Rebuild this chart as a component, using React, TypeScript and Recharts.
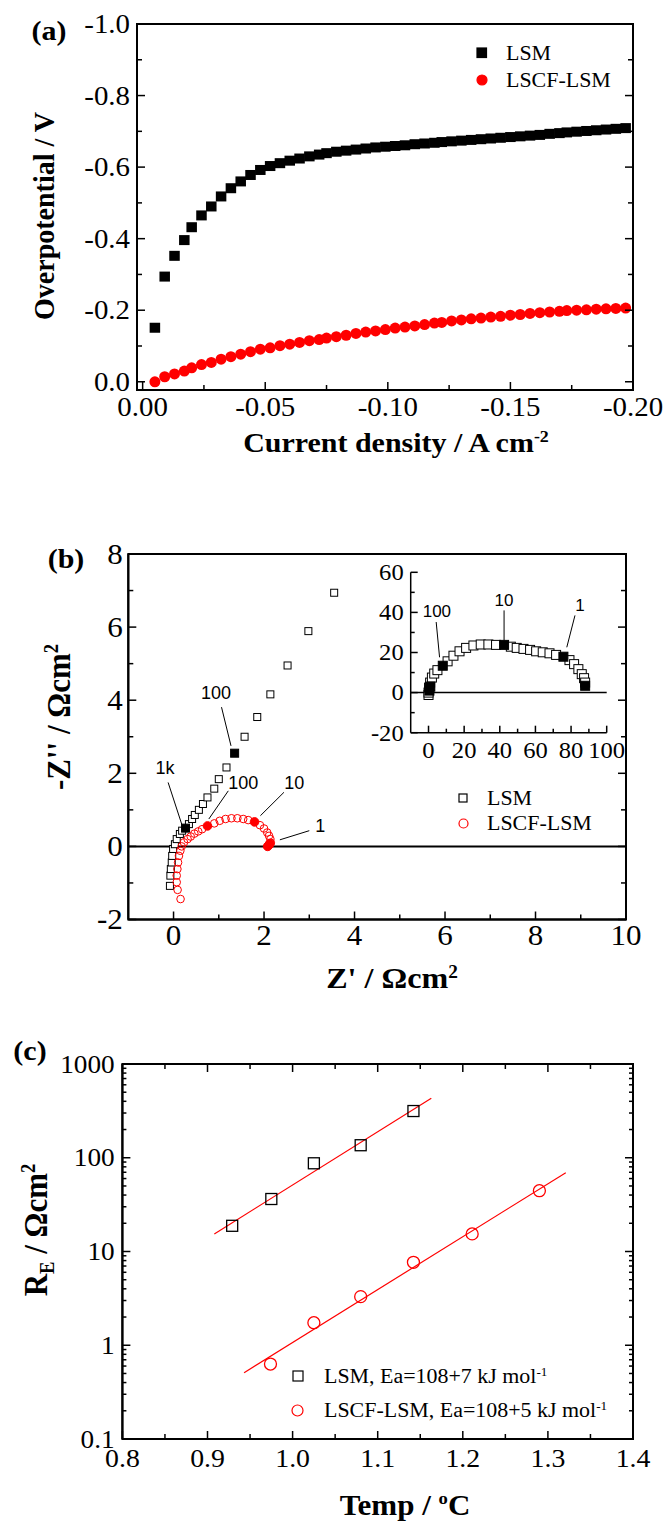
import React from 'react'
import { ScatterChart, Scatter, XAxis, YAxis, ReferenceArea, ReferenceLine } from 'recharts'

const SERIF = '"Liberation Serif", "Times New Roman", Times, serif'
const SANS = '"Liberation Sans", Arial, sans-serif'
const RED = '#ff0000'
const SX = 1.07 // the original figure's lettering is slightly wide

// ---- (a) overpotential vs current density ----
const currentA = [
  -0.005, -0.009, -0.013, -0.017, -0.020, -0.024, -0.028, -0.032, -0.036, -0.040,
  -0.044, -0.048, -0.052, -0.056, -0.060, -0.064, -0.068, -0.072, -0.075, -0.079,
  -0.083, -0.087, -0.091, -0.095, -0.099, -0.103, -0.107, -0.111, -0.115, -0.119,
  -0.122, -0.126, -0.130, -0.134, -0.138, -0.142, -0.146, -0.150, -0.154, -0.158,
  -0.162, -0.166, -0.170, -0.173, -0.177, -0.181, -0.185, -0.189, -0.193, -0.197,
]
const overLSM = [
  -0.151, -0.294, -0.352, -0.396, -0.432, -0.465, -0.490, -0.518, -0.541, -0.560,
  -0.578, -0.592, -0.603, -0.611, -0.618, -0.624, -0.630, -0.635, -0.639, -0.643,
  -0.646, -0.649, -0.652, -0.655, -0.657, -0.659, -0.661, -0.664, -0.666, -0.668,
  -0.670, -0.672, -0.674, -0.676, -0.678, -0.680, -0.682, -0.684, -0.686, -0.688,
  -0.690, -0.693, -0.695, -0.697, -0.699, -0.701, -0.703, -0.705, -0.707, -0.709,
]
const overLSCF = [
  0.000, -0.014, -0.022, -0.030, -0.039, -0.048, -0.054, -0.063, -0.070, -0.077,
  -0.084, -0.091, -0.095, -0.101, -0.105, -0.110, -0.115, -0.118, -0.122, -0.126,
  -0.130, -0.135, -0.139, -0.142, -0.146, -0.150, -0.153, -0.156, -0.160, -0.164,
  -0.166, -0.170, -0.173, -0.176, -0.178, -0.181, -0.183, -0.186, -0.188, -0.191,
  -0.193, -0.195, -0.197, -0.199, -0.200, -0.201, -0.203, -0.204, -0.205, -0.206,
]

// ---- (b) impedance, main plot ----
const zReLSM = [-0.08, -0.07, -0.06, -0.04, -0.03, -0.01, 0.03, 0.07, 0.14, 0.19, 0.34, 0.41, 0.47, 0.56, 0.65, 0.75, 0.90, 1.00, 1.17, 1.57, 1.85, 2.14, 2.52, 2.98, 3.55]
const zImLSM = [-1.08, -0.80, -0.62, -0.44, -0.26, -0.07, 0.06, 0.20, 0.34, 0.43, 0.61, 0.75, 0.86, 1.00, 1.16, 1.34, 1.58, 1.84, 2.16, 3.00, 3.54, 4.16, 4.95, 5.89, 6.94]
const zReLSMdec = [0.265, 1.35]
const zImLSMdec = [0.50, 2.55]
const zReLSCF = [0.155, 0.09, 0.07, 0.07, 0.085, 0.10, 0.12, 0.15, 0.18, 0.23, 0.31, 0.38, 0.46, 0.545, 0.63, 0.90, 1.02, 1.15, 1.28, 1.41, 1.54, 1.65, 1.91, 2.00, 2.07, 2.11, 2.14, 2.15]
const zImLSCF = [-1.44, -1.19, -0.98, -0.80, -0.62, -0.44, -0.26, -0.12, 0.00, 0.11, 0.20, 0.27, 0.35, 0.41, 0.47, 0.63, 0.70, 0.75, 0.77, 0.77, 0.75, 0.72, 0.58, 0.49, 0.38, 0.29, 0.20, 0.10]
const zReLSCFdec = [0.75, 1.79, 2.08, 2.11, 2.13]
const zImLSCFdec = [0.56, 0.67, 0.00, 0.04, 0.08]

// ---- (b) inset, LSM ----
const insRe = [0, 0, 0.3, 0.9, 1.9, 3.2, 5, 10.7, 14, 17.4, 21.1, 25.2, 29.3, 33.6, 37.9, 46.2, 49.5, 53.3, 57, 60.4, 64.1, 67.9, 71.6, 79.1, 81.7, 84.1, 86, 87.3, 87.9]
const insIm = [-1.2, 0, 2.5, 5, 7.5, 9.5, 11.2, 15.6, 18.4, 20.6, 22.3, 23.5, 24, 24, 23.8, 22.9, 22.3, 21.8, 21.3, 20.6, 20.1, 19.6, 18.8, 16.2, 14.2, 11.7, 9.2, 7.2, 5]
const insReDec = [0.5, 1, 8, 42.4, 75.7, 87.9]
const insImDec = [1, 3, 13.4, 23.8, 17.9, 3.4]

// ---- (c) Arrhenius ----
const tLSM = [0.929, 0.975, 1.025, 1.080, 1.142]
const rLSM = [18.8, 36.3, 87.3, 136, 315]
const tLSCF = [0.974, 1.025, 1.080, 1.142, 1.211, 1.290]
const rLSCF = [0.63, 1.74, 3.30, 7.67, 15.4, 44.5]
const fitLSM_T = [0.908, 1.163]
const fitLSM_R = [15.4, 431]
const fitLSCF_T = [0.943, 1.321]
const fitLSCF_R = [0.51, 69.3]

// tick values
const aXTicks = [0, -0.025, -0.05, -0.075, -0.1, -0.125, -0.15, -0.175, -0.2]
const aXMajor = [0, -0.05, -0.1, -0.15, -0.2]
const aYTicks = [-1, -0.9, -0.8, -0.7, -0.6, -0.5, -0.4, -0.3, -0.2, -0.1, 0]
const aYMajor = [-1, -0.8, -0.6, -0.4, -0.2, 0]
const bXTicks = [0, 1, 2, 3, 4, 5, 6, 7, 8, 9, 10]
const bXMajor = [0, 2, 4, 6, 8, 10]
const bYTicks = [-2, -1, 0, 1, 2, 3, 4, 5, 6, 7, 8]
const bYMajor = [-2, 0, 2, 4, 6, 8]
const inXTicks = [0, 10, 20, 30, 40, 50, 60, 70, 80, 90, 100]
const inXMajor = [0, 20, 40, 60, 80, 100]
const inYTicks = [-20, -10, 0, 10, 20, 30, 40, 50, 60]
const inYMajor = [-20, 0, 20, 40, 60]
const cXTicks = [0.8, 0.85, 0.9, 0.95, 1.0, 1.05, 1.1, 1.15, 1.2, 1.25, 1.3, 1.35, 1.4]
const cXMajor = [0.8, 0.9, 1.0, 1.1, 1.2, 1.3, 1.4]
const cYTicks = [
  0.1, 0.2, 0.3, 0.4, 0.5, 0.6, 0.7, 0.8, 0.9,
  1, 2, 3, 4, 5, 6, 7, 8, 9,
  10, 20, 30, 40, 50, 60, 70, 80, 90,
  100, 200, 300, 400, 500, 600, 700, 800, 900, 1000,
]
const cYMajor = [0.1, 1, 10, 100, 1000]

// frequency labels: text position and leader line, in data units
const annMain = [
  { t: '1k', x: -0.19, y: 2.16, x1: -0.12, y1: 1.75, x2: 0.18, y2: 0.61 },
  { t: '100', x: 0.94, y: 4.21, x1: 1.06, y1: 3.81, x2: 1.27, y2: 2.75 },
  { t: '100', x: 1.54, y: 1.75, x1: 1.21, y1: 1.52, x2: 0.78, y2: 0.75 },
  { t: '10', x: 2.67, y: 1.76, x1: 2.44, y1: 1.48, x2: 1.92, y2: 0.84 },
  { t: '1', x: 3.24, y: 0.56, x1: 3.0, y1: 0.43, x2: 2.35, y2: 0.18 },
]
const annInset = [
  { t: '100', x: 4.7, y: 41, x1: 4.3, y1: 35.2, x2: 6.2, y2: 17.6 },
  { t: '10', x: 42.4, y: 46, x1: 42.4, y1: 41, x2: 42.4, y2: 26 },
  { t: '1', x: 85, y: 43.6, x1: 82.2, y1: 38.5, x2: 77.6, y2: 22.6 },
]

const pts = (xs: number[], ys: number[]) => xs.map((x, i) => ({ x, y: ys[i] }))

const box = (w: number, h: number, fill: string, sw = 1) => (p: any) => (
  <rect x={p.cx - w / 2} y={p.cy - h / 2} width={w} height={h} fill={fill} stroke="#000" strokeWidth={sw} />
)
const dot = (r: number, fill: string, stroke: string, sw = 1) => (p: any) => (
  <circle cx={p.cx} cy={p.cy} r={r} fill={fill} stroke={stroke} strokeWidth={sw} />
)
const label = (size: number) => (p: any) => (
  <text x={p.cx} y={p.cy} dy={size * 0.36} textAnchor="middle" fontFamily={SANS} fontSize={size} fill="#000">
    {p.payload.t}
  </text>
)

type TickSpec = {
  side: 'left' | 'bottom'
  at: number
  opp?: number
  majors: number[]
  fmt: (v: number) => string
  font: number
  gap: number
  long: number
  short: number
}

// inward ticks (mirrored on the opposite frame edge) + serif labels
function tickFor(s: TickSpec) {
  return (p: any) => {
    const v = Number(p.payload.value)
    const isMajor = s.majors.some(m => Math.abs(m - v) <= Math.abs(m) * 1e-6 + 1e-9)
    const len = isMajor ? s.long : s.short
    if (s.side === 'left') {
      const y = p.y
      return (
        <g>
          <line x1={s.at} x2={s.at + len} y1={y} y2={y} stroke="#000" strokeWidth={1.5} />
          {s.opp != null && <line x1={s.opp} x2={s.opp - len} y1={y} y2={y} stroke="#000" strokeWidth={1.5} />}
          {isMajor && (
            <text transform={`translate(${s.at - s.gap},${y + s.font * 0.34}) scale(${SX},1)`} textAnchor="end"
              fontFamily={SERIF} fontSize={s.font} fill="#000">
              {s.fmt(v)}
            </text>
          )}
        </g>
      )
    }
    const x = p.x
    return (
      <g>
        <line x1={x} x2={x} y1={s.at} y2={s.at - len} stroke="#000" strokeWidth={1.5} />
        {s.opp != null && <line x1={x} x2={x} y1={s.opp} y2={s.opp + len} stroke="#000" strokeWidth={1.5} />}
        {isMajor && (
          <text transform={`translate(${x},${s.at + s.gap}) scale(${SX},1)`} textAnchor="middle"
            fontFamily={SERIF} fontSize={s.font} fill="#000">
            {s.fmt(v)}
          </text>
        )}
      </g>
    )
  }
}

function Txt({ x, y, size, bold, rotate, left, children }: any) {
  const tf = rotate
    ? `translate(-50%,-50%) scaleX(${SX}) rotate(-90deg)`
    : `translate(${left ? '0' : '-50%'},-50%) scaleX(${SX})`
  return (
    <div
      style={{
        position: 'absolute', left: x, top: y, whiteSpace: 'nowrap', lineHeight: 1,
        fontFamily: SERIF, fontSize: size, fontWeight: bold ? 700 : 400, color: '#000',
        transform: tf, transformOrigin: left ? '0 50%' : '50% 50%',
      }}
    >
      {children}
    </div>
  )
}
const Sup = ({ children }: any) => <span style={{ fontSize: '0.6em', verticalAlign: '0.6em' }}>{children}</span>
const Sub = ({ children }: any) => <span style={{ fontSize: '0.6em', verticalAlign: '-0.35em' }}>{children}</span>

function Mark({ x, y, kind, size, fill, stroke }: any) {
  const s = size + 4
  return (
    <svg width={s} height={s} style={{ position: 'absolute', left: x - s / 2, top: y - s / 2 }}>
      {kind === 'sq'
        ? <rect x={2} y={2} width={size} height={size} fill={fill} stroke={stroke} strokeWidth={1.2} />
        : <circle cx={s / 2} cy={s / 2} r={size / 2} fill={fill} stroke={stroke} strokeWidth={1.2} />}
    </svg>
  )
}

const axisLine = { stroke: '#000', strokeWidth: 2 }

function PanelA() {
  const W = 663, H = 460, l = 137, r = 633, t = 24, b = 390
  return (
    <div style={{ position: 'absolute', left: 0, top: 0 }}>
      <ScatterChart width={W} height={H} margin={{ top: t, right: W - r, bottom: H - b - 50, left: l - 70 }}>
        <XAxis type="number" dataKey="x" domain={[-0.2, 0.0023]} reversed allowDataOverflow ticks={aXTicks} interval={0}
          height={50} axisLine={axisLine} tickLine={false}
          tick={tickFor({ side: 'bottom', at: b, majors: aXMajor, fmt: v => v.toFixed(2), font: 27, gap: 26, long: 8, short: 5 })} />
        <YAxis type="number" dataKey="y" domain={[-1, 0.023]} reversed allowDataOverflow ticks={aYTicks} interval={0}
          width={70} axisLine={axisLine} tickLine={false}
          tick={tickFor({ side: 'left', at: l, opp: r, majors: aYMajor, fmt: v => (Math.abs(v) < 1e-9 ? '0.0' : v.toFixed(1)), font: 27, gap: 7, long: 8, short: 5 })} />
        <ReferenceArea x1={-0.2} x2={0.0023} y1={-1} y2={0.023} fill="none" stroke="#000" strokeWidth={2} ifOverflow="visible" />
        <Scatter data={pts(currentA, overLSM)} shape={box(10.5, 10, '#000', 0)} isAnimationActive={false} />
        <Scatter data={pts(currentA, overLSCF)} shape={dot(5.5, RED, 'none')} isAnimationActive={false} />
      </ScatterChart>
    </div>
  )
}

function PanelB() {
  const top = 480, W = 663, H = 560, l = 128.3, r = 626, t = 74, b = 439.5
  return (
    <div style={{ position: 'absolute', left: 0, top }}>
      <ScatterChart width={W} height={H} margin={{ top: t, right: W - r, bottom: H - b - 60, left: l - 70 }}>
        <XAxis type="number" dataKey="x" domain={[-1, 10]} allowDataOverflow ticks={bXTicks} interval={0}
          height={60} axisLine={axisLine} tickLine={false}
          tick={tickFor({ side: 'bottom', at: b, majors: bXMajor, fmt: v => String(v), font: 29, gap: 25.5, long: 8, short: 5 })} />
        <YAxis type="number" dataKey="y" domain={[-2, 8]} allowDataOverflow ticks={bYTicks} interval={0}
          width={70} axisLine={axisLine} tickLine={false}
          tick={tickFor({ side: 'left', at: l, opp: r, majors: bYMajor, fmt: v => String(v), font: 29, gap: 5.5, long: 8, short: 5 })} />
        <ReferenceArea x1={-1} x2={10} y1={-2} y2={8} fill="none" stroke="#000" strokeWidth={2} ifOverflow="visible" />
        <ReferenceLine y={0} stroke="#000" strokeWidth={2} />
        {annMain.map((a, i) => (
          <ReferenceLine key={i} segment={[{ x: a.x1, y: a.y1 }, { x: a.x2, y: a.y2 }]} stroke="#000" strokeWidth={1} />
        ))}
        <Scatter data={pts(zReLSM, zImLSM)} shape={box(7, 7, '#fff')} isAnimationActive={false} />
        <Scatter data={pts(zReLSMdec, zImLSMdec)} shape={box(8, 8, '#000')} isAnimationActive={false} />
        <Scatter data={pts(zReLSCF, zImLSCF)} shape={dot(3.8, 'none', RED)} isAnimationActive={false} />
        <Scatter data={pts(zReLSCFdec, zImLSCFdec)} shape={dot(4.3, RED, RED)} isAnimationActive={false} />
        <Scatter data={annMain} shape={label(18)} isAnimationActive={false} />
      </ScatterChart>
    </div>
  )
}

function Inset() {
  const W = 290, H = 240, l = 70.7, r = 266.7, t = 32.3, b = 192.7
  return (
    <div style={{ position: 'absolute', left: 340, top: 540 }}>
      <ScatterChart width={W} height={H} margin={{ top: t, right: W - r, bottom: H - b - 30, left: l - 50 }}>
        <XAxis type="number" dataKey="x" domain={[-10, 100]} allowDataOverflow ticks={inXTicks} interval={0}
          height={30} axisLine={{ stroke: '#000', strokeWidth: 1.5 }} tickLine={false}
          tick={tickFor({ side: 'bottom', at: b, majors: inXMajor, fmt: v => String(v), font: 23, gap: 25, long: 7, short: 4 })} />
        <YAxis type="number" dataKey="y" domain={[-20, 60]} allowDataOverflow ticks={inYTicks} interval={0}
          width={50} axisLine={{ stroke: '#000', strokeWidth: 1.5 }} tickLine={false}
          tick={tickFor({ side: 'left', at: l, majors: inYMajor, fmt: v => String(v), font: 23, gap: 7, long: 7, short: 4 })} />
        <ReferenceLine y={0} stroke="#000" strokeWidth={1.5} />
        {annInset.map((a, i) => (
          <ReferenceLine key={i} segment={[{ x: a.x1, y: a.y1 }, { x: a.x2, y: a.y2 }]} stroke="#000" strokeWidth={1} />
        ))}
        <Scatter data={pts(insRe, insIm)} shape={box(9, 9, '#fff')} isAnimationActive={false} />
        <Scatter data={pts(insReDec, insImDec)} shape={box(9, 9, '#000')} isAnimationActive={false} />
        <Scatter data={annInset} shape={label(17)} isAnimationActive={false} />
      </ScatterChart>
    </div>
  )
}

function PanelC() {
  const top = 1000, W = 663, H = 525, l = 122.4, r = 633, t = 64, b = 439
  return (
    <div style={{ position: 'absolute', left: 0, top }}>
      <ScatterChart width={W} height={H} margin={{ top: t, right: W - r, bottom: H - b - 60, left: l - 80 }}>
        <XAxis type="number" dataKey="x" domain={[0.8, 1.4]} allowDataOverflow ticks={cXTicks} interval={0}
          height={60} axisLine={axisLine} tickLine={false}
          tick={tickFor({ side: 'bottom', at: b, opp: t, majors: cXMajor, fmt: v => v.toFixed(1), font: 26, gap: 27.7, long: 8, short: 5 })} />
        <YAxis type="number" dataKey="y" scale="log" domain={[0.1, 1000]} allowDataOverflow ticks={cYTicks} interval={0}
          width={80} axisLine={axisLine} tickLine={false}
          tick={tickFor({ side: 'left', at: l, opp: r, majors: cYMajor, fmt: v => String(v), font: 25.5, gap: 7.7, long: 8, short: 4 })} />
        <ReferenceArea x1={0.8} x2={1.4} y1={0.1} y2={1000} fill="none" stroke="#000" strokeWidth={2} ifOverflow="visible" />
        <Scatter data={pts(fitLSM_T, fitLSM_R)} line={{ stroke: RED, strokeWidth: 1.2 }} shape={() => <g />} isAnimationActive={false} />
        <Scatter data={pts(fitLSCF_T, fitLSCF_R)} line={{ stroke: RED, strokeWidth: 1.2 }} shape={() => <g />} isAnimationActive={false} />
        <Scatter data={pts(tLSM, rLSM)} shape={box(11, 11, 'none', 1.3)} isAnimationActive={false} />
        <Scatter data={pts(tLSCF, rLSCF)} shape={dot(6, 'none', RED, 1.3)} isAnimationActive={false} />
      </ScatterChart>
    </div>
  )
}

export default function App() {
  return (
    <div style={{ position: 'absolute', left: 0, top: 0, width: 663, height: 1525, background: '#fff', overflow: 'hidden' }}>
      <PanelA />
      <PanelB />
      <Inset />
      <PanelC />

      {/* (a) */}
      <Txt x={49} y={31} size={28} bold>(a)</Txt>
      <Txt x={43.5} y={216} size={28} bold rotate>Overpotential / V</Txt>
      <Txt x={396} y={443} size={28} bold>Current density / A cm<Sup>-2</Sup></Txt>
      <Mark x={482} y={53} kind="sq" size={9.5} fill="#000" stroke="#000" />
      <Txt x={506} y={53} size={20.5} left>LSM</Txt>
      <Mark x={482} y={80} kind="ci" size={10} fill={RED} stroke={RED} />
      <Txt x={506} y={80} size={20.5} left>LSCF-LSM</Txt>

      {/* (b) */}
      <Txt x={66} y={559} size={28} bold>(b)</Txt>
      <Txt x={58.5} y={717} size={31} bold rotate>-Z'' / Ωcm<Sup>2</Sup></Txt>
      <Txt x={392} y={978} size={30} bold>Z' / Ωcm<Sup>2</Sup></Txt>
      <Mark x={463} y={798} kind="sq" size={8} fill="#fff" stroke="#000" />
      <Txt x={487} y={798} size={20.5} left>LSM</Txt>
      <Mark x={463} y={823} kind="ci" size={9} fill="none" stroke={RED} />
      <Txt x={487} y={823} size={20.5} left>LSCF-LSM</Txt>

      {/* (c) */}
      <Txt x={30} y={1051} size={28} bold>(c)</Txt>
      <Txt x={38} y={1230} size={31} bold rotate>R<Sub>E</Sub> / Ωcm<Sup>2</Sup></Txt>
      <Txt x={405} y={1505} size={29} bold>Temp / <Sup>o</Sup>C</Txt>
      <Mark x={297.5} y={1376} kind="sq" size={10} fill="none" stroke="#000" />
      <Txt x={324} y={1376} size={20.5} left>LSM, Ea=108+7 kJ mol<Sup>-1</Sup></Txt>
      <Mark x={297.5} y={1410} kind="ci" size={11} fill="none" stroke={RED} />
      <Txt x={324} y={1410} size={20.5} left>LSCF-LSM, Ea=108+5 kJ mol<Sup>-1</Sup></Txt>
    </div>
  )
}
